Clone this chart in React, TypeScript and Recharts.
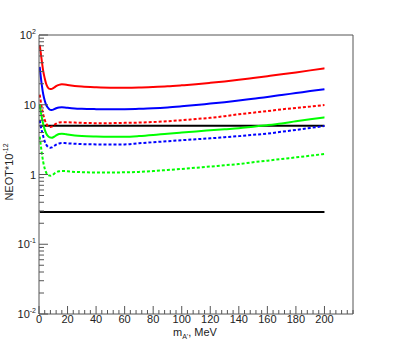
import { LineChart, Line, XAxis, YAxis } from 'recharts'

// m_A' in MeV
const masses = [0.5, 1, 2, 3, 4, 5, 6, 7, 8, 9, 10, 11, 12, 14, 16, 18, 20, 25, 30, 40, 50, 60, 70, 80, 90, 100, 110, 120, 130, 140, 150, 160, 170, 180, 190, 200]

const redSolid = [72, 60, 42, 30, 24, 20, 18, 17, 16.8, 16.9, 17.3, 17.9, 18.5, 19.3, 19.6, 19.5, 19.2, 18.6, 18.2, 17.8, 17.6, 17.6, 17.7, 18, 18.4, 19, 19.7, 20.6, 21.6, 22.8, 24.2, 25.7, 27.3, 29.1, 31.1, 33.3]
const blueSolid = [35, 28, 19, 14, 11.5, 10, 9.2, 8.7, 8.45, 8.4, 8.5, 8.7, 8.9, 9.15, 9.2, 9.15, 9.05, 8.85, 8.75, 8.65, 8.6, 8.65, 8.75, 8.9, 9.15, 9.5, 9.9, 10.4, 10.9, 11.5, 12.2, 12.9, 13.8, 14.7, 15.7, 16.7]
const redDashed = [14, 12, 9, 7.2, 6.1, 5.4, 5, 4.85, 4.8, 4.85, 5, 5.2, 5.35, 5.55, 5.6, 5.6, 5.6, 5.55, 5.5, 5.45, 5.45, 5.5, 5.55, 5.65, 5.8, 6, 6.25, 6.5, 6.85, 7.3, 7.7, 8.1, 8.6, 9, 9.4, 9.9]
const greenSolid = [10, 8.5, 6.5, 5.2, 4.4, 3.9, 3.6, 3.45, 3.38, 3.37, 3.42, 3.52, 3.63, 3.8, 3.85, 3.82, 3.75, 3.62, 3.55, 3.5, 3.48, 3.48, 3.55, 3.68, 3.85, 4, 4.15, 4.3, 4.45, 4.6, 4.85, 5.1, 5.4, 5.8, 6.2, 6.6]
const blueDashed = [6, 5.2, 4.2, 3.5, 3, 2.7, 2.52, 2.44, 2.42, 2.45, 2.52, 2.6, 2.68, 2.78, 2.82, 2.82, 2.8, 2.76, 2.73, 2.7, 2.69, 2.7, 2.8, 2.9, 3, 3.1, 3.2, 3.3, 3.42, 3.55, 3.7, 3.85, 4.1, 4.35, 4.65, 4.96]
const greenDashed = [3.5, 2.9, 2, 1.5, 1.22, 1.07, 1, 0.97, 0.96, 0.97, 1, 1.04, 1.07, 1.11, 1.12, 1.12, 1.11, 1.09, 1.08, 1.07, 1.07, 1.075, 1.09, 1.12, 1.16, 1.2, 1.25, 1.3, 1.36, 1.41, 1.5, 1.58, 1.67, 1.76, 1.86, 1.97]
const blackUpper = 5.0
const blackLower = 0.29

const xMajorTicks = [0, 20, 40, 60, 80, 100, 120, 140, 160, 180, 200]
const yMajorTicks = [0.01, 0.1, 1, 10, 100]

// minor ticks every 4 MeV, and 2..9 inside each decade
const xTicks: number[] = []
for (let v = 0; v <= 220; v += 4) xTicks.push(v)
const yTicks: number[] = [...yMajorTicks]
for (const d of [0.01, 0.1, 1, 10]) for (let k = 2; k <= 9; k++) yTicks.push(+(d * k).toPrecision(2))

const data = masses.map((m, i) => ({
  m,
  redSolid: redSolid[i],
  blueSolid: blueSolid[i],
  redDashed: redDashed[i],
  greenSolid: greenSolid[i],
  blueDashed: blueDashed[i],
  greenDashed: greenDashed[i],
  blackUpper,
  blackLower,
}))

const FONT = "'Liberation Sans Narrow', 'Liberation Sans', Arial, sans-serif"
const AXIS = '#555'
const TEXT = '#222'

const XTick = ({ x, y, payload }: any) => {
  const major = xMajorTicks.includes(payload.value)
  return (
    <g>
      <line x1={x} x2={x} y1={y} y2={y - (major ? 8 : 4)} stroke={AXIS} strokeWidth={1} />
      {major && (
        <text x={x} y={y + 9} textAnchor="middle" fontSize={11} fontFamily={FONT} fill={TEXT}>
          {payload.value}
        </text>
      )}
    </g>
  )
}

const YTick = ({ x, y, payload }: any) => {
  const major = yMajorTicks.includes(payload.value)
  const exp = Math.round(Math.log10(payload.value))
  const sup = exp === 0 || exp === 1 ? null : String(exp)
  const base = exp === 0 ? '1' : '10'
  return (
    <g>
      <line x1={x} x2={x + (major ? 9 : 5)} y1={y} y2={y} stroke={AXIS} strokeWidth={1} />
      {major && (
        <text x={x - 3} y={y + 4} textAnchor="end" fontSize={11} fontFamily={FONT} fill={TEXT}>
          {base}
          {sup && <tspan dy={-5} fontSize={7}>{sup}</tspan>}
        </text>
      )}
    </g>
  )
}

export default function App() {
  const series = [
    { key: 'redSolid', color: '#ff0000', dash: undefined },
    { key: 'blueSolid', color: '#0000ff', dash: undefined },
    { key: 'redDashed', color: '#ff0000', dash: '3 2' },
    { key: 'greenSolid', color: '#00ff00', dash: undefined },
    { key: 'blueDashed', color: '#0000ff', dash: '3 2' },
    { key: 'greenDashed', color: '#00ff00', dash: '3 2' },
  ]
  return (
    <div style={{ position: 'absolute', left: 0, top: 0, width: 393, height: 349, background: '#fff' }}>
      <LineChart width={393} height={349} data={data} margin={{ top: 34, right: 39, bottom: 34, left: 38 }}>
        <XAxis dataKey="m" type="number" domain={[0, 220]} ticks={xTicks} interval={0}
          height={1} tickSize={0} tickMargin={0} tickLine={false} tick={<XTick />} stroke={AXIS} allowDataOverflow />
        <XAxis xAxisId="top" orientation="top" dataKey="m" type="number" domain={[0, 220]}
          height={1} tick={false} tickLine={false} stroke={AXIS} />
        <YAxis type="number" scale="log" domain={[0.01, 100]} ticks={yTicks} interval={0}
          width={1} tickSize={0} tickMargin={0} tickLine={false} tick={<YTick />} stroke={AXIS} allowDataOverflow />
        <YAxis yAxisId="right" orientation="right" type="number" scale="log" domain={[0.01, 100]}
          width={1} tick={false} tickLine={false} stroke={AXIS} />
        <Line dataKey="blackUpper" stroke="#000" strokeWidth={1.8} dot={false} isAnimationActive={false} />
        <Line dataKey="blackLower" stroke="#000" strokeWidth={1.8} dot={false} isAnimationActive={false} />
        {series.map(s => (
          <Line key={s.key} type="monotone" dataKey={s.key} stroke={s.color} strokeWidth={2}
            strokeDasharray={s.dash} dot={false} isAnimationActive={false} />
        ))}
      </LineChart>
      <svg width={393} height={349} style={{ position: 'absolute', left: 0, top: 0, pointerEvents: 'none' }}>
        <text transform="translate(13,172) rotate(-90)" textAnchor="middle" fontSize={11} fontFamily={FONT} fill={TEXT}>
          NEOT*10<tspan dy={-5} fontSize={7}>-12</tspan>
        </text>
        <text x={195} y={336} textAnchor="middle" fontSize={11} fontFamily={FONT} fill={TEXT}>
          m<tspan dy={3} fontSize={7}>A'</tspan><tspan dy={-3}>, MeV</tspan>
        </text>
      </svg>
    </div>
  )
}
